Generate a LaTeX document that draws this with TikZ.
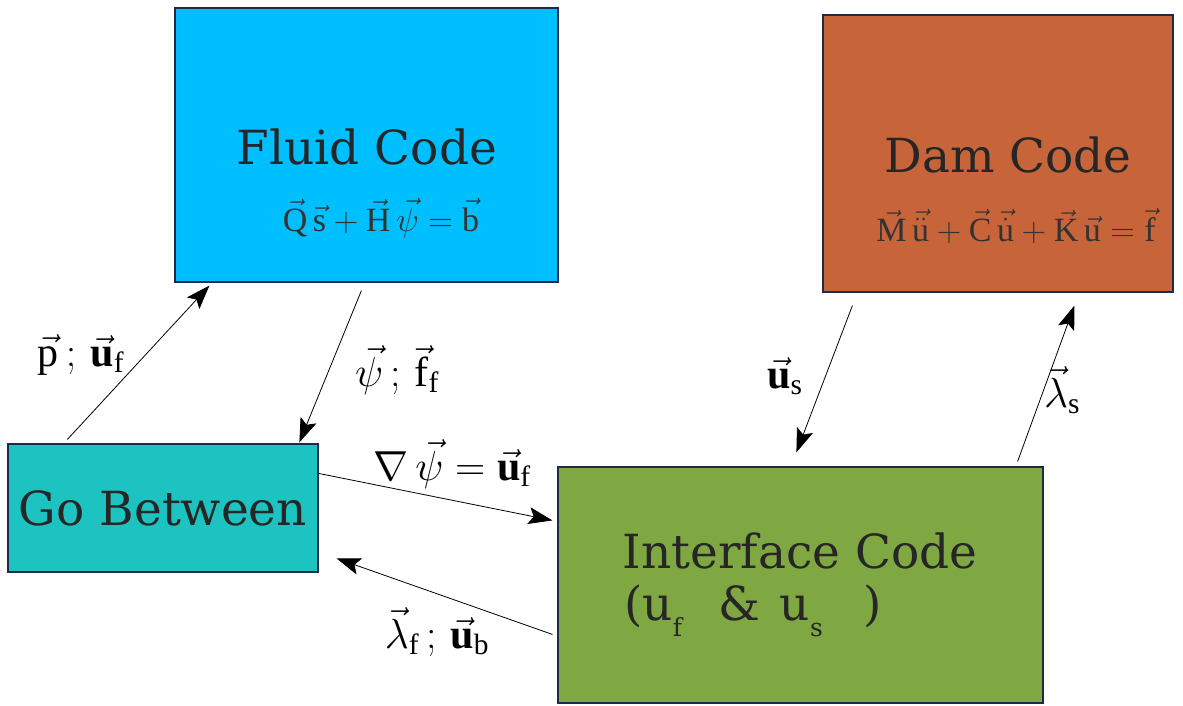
\documentclass[tikz,border=0pt]{standalone}
\usepackage{fix-cm}
\usepackage{fontspec}
\setmainfont{Liberation Serif}
\newfontfamily\titlefont{DejaVu Serif}
\usetikzlibrary{arrows.meta}
\definecolor{fluidc}{HTML}{00BFFF}
\definecolor{damc}{HTML}{C8643A}
\definecolor{goc}{HTML}{1CC3C0}
\definecolor{ifacec}{HTML}{7FA742}
\definecolor{edgec}{HTML}{1E2A48}
\tikzset{
  box/.style={draw=edgec, line width=1.2pt, inner sep=0pt},
  title/.style={font=\titlefont\fontsize{47}{54}\selectfont, text=black!85},
  formula/.style={font=\fontsize{34}{38}\selectfont, text=black!80},
  lbl/.style={font=\fontsize{42}{46}\selectfont},
  link/.style={draw=black, line width=0.8pt, -{Stealth[length=24pt,width=17pt,inset=5pt]}}
}
\newcommand{\vv}[1]{\vec{\mathrm{#1}}}
\newcommand{\vb}[1]{\vec{\mathbf{#1}}}
% lowered small index used in the block title
\newcommand{\lowidx}[1]{\raisebox{-0.34em}{\fontsize{25}{27}\selectfont #1}}
\begin{document}
\begin{tikzpicture}[x=1pt,y=-1pt]
  \useasboundingbox (0,0) rectangle (1183,705);
  \fill[white] (0,0) rectangle (1183,705);

  % the four code blocks
  \node[box, fill=fluidc, minimum width=383pt, minimum height=274pt] (fluid) at (366.5,145) {};
  \node[box, fill=damc, minimum width=350pt, minimum height=277pt] (dam) at (998,153.5) {};
  \node[box, fill=goc, minimum width=310pt, minimum height=128pt] (go) at (163,508) {};
  \node[box, fill=ifacec, minimum width=485pt, minimum height=236pt] (iface) at (800.5,585) {};

  % block titles and equations
  \node[title] (fluidt) at (367,147) {Fluid Code};
  \node[formula] (fluidf) at (381,218) {$\vv{Q}\,\vv{s}+\vv{H}\,\vec{\psi}=\vv{b}$};
  \node[title] (damt) at (1008,155) {Dam Code};
  \node[formula] (damf) at (1016,226) {$\vv{M}\,\vec{\ddot{\mathrm{u}}}+\vv{C}\,\vec{\dot{\mathrm{u}}}+\vv{K}\,\vv{u}=\vv{f}$};
  \node[title] (got) at (163,508) {Go Between};
  \node[title] (ifacet) at (800,551) {Interface Code};
  \node[title, anchor=west, inner sep=0pt] (ifaces) at (624,611)
    {(u\lowidx{f}\hspace{36pt}\&\hspace{20pt}u\lowidx{s}\hspace{40pt})};

  % data exchanged between the blocks
  \draw[link] ([shift={(60,-4)}]go.north west) -- ([shift={(35,3)}]fluid.south west);
  \draw[link] ([shift={(187,8)}]fluid.south west) -- ([shift={(292,-1)}]go.north west);
  \draw[link] ([shift={(0,30)}]go.north east) -- ([shift={(-5,54)}]iface.north west);
  \draw[link] ([shift={(-5,168)}]iface.north west) -- ([shift={(18,115)}]go.north east);
  \draw[link] ([shift={(30,13)}]dam.south west) -- ([shift={(239,-14)}]iface.north west);
  \draw[link] ([shift={(-26,-5)}]iface.north east) -- ([shift={(252,13)}]dam.south west);

  % connector labels
  \node[lbl] (l1) at (81,355) {$\vv{p}\,;\,\vb{u}_{\mathrm{f}}$};
  \node[lbl] (l2) at (397,370) {$\vec{\psi}\,;\,\vv{f}_{\mathrm{f}}$};
  \node[lbl] (l3) at (452,464) {$\nabla\,\vec{\psi}=\vb{u}_{\mathrm{f}}$};
  \node[lbl] (l4) at (437,632) {$\vec{\mathrm{\lambda}}_{\mathrm{f}}\,;\,\vb{u}_{\mathrm{b}}$};
  \node[lbl] (l5) at (785,376) {$\vb{u}_{\mathrm{s}}$};
  \node[lbl] (l6) at (1062,390) {$\vec{\lambda}_{\mathrm{s}}$};
\end{tikzpicture}
\end{document}
